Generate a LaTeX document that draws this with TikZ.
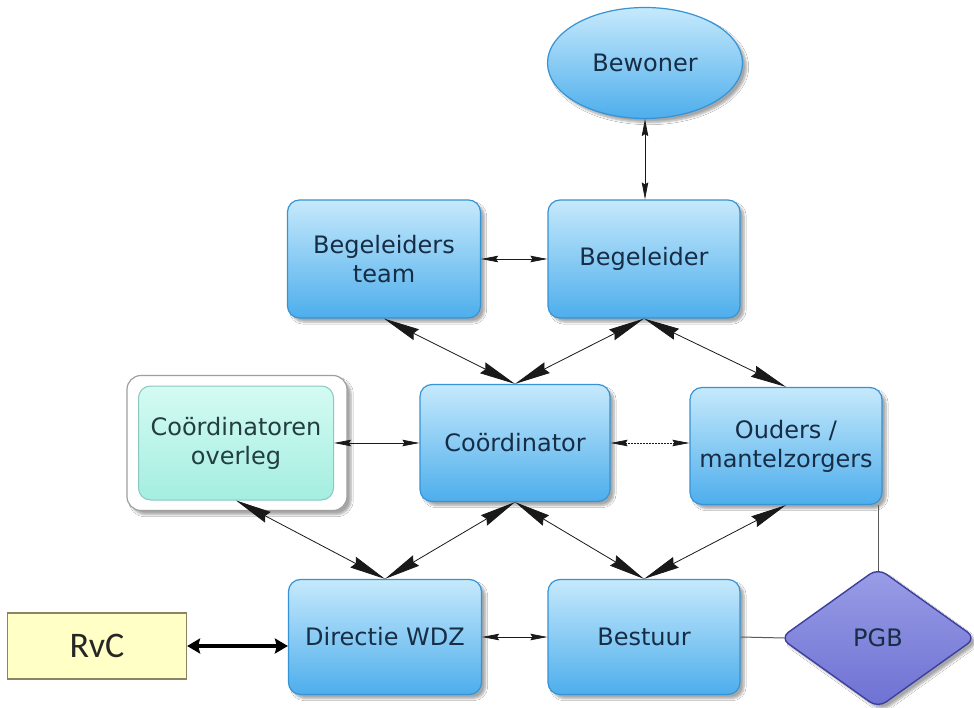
\documentclass[tikz,border=0pt]{standalone}
\usepackage{fontspec}
\setmainfont{DejaVu Sans}
\newfontfamily\rvcfont{Carlito}
\usetikzlibrary{arrows.meta,shapes.geometric,shadows.blur}
\definecolor{boxtop}{HTML}{C6E9FC}
\definecolor{boxbot}{HTML}{4DAEEC}
\definecolor{boxline}{HTML}{3593D6}
\definecolor{txt}{HTML}{172D45}
\definecolor{aquatop}{HTML}{D4FBF3}
\definecolor{aquabot}{HTML}{A4EEDF}
\definecolor{aqualine}{HTML}{8CC8C0}
\definecolor{aquatxt}{HTML}{223E3E}
\definecolor{pgbtop}{HTML}{9A9DE6}
\definecolor{pgbbot}{HTML}{6D71D2}
\definecolor{pgbline}{HTML}{3B3F9E}
\definecolor{rvcfill}{HTML}{FFFFC6}
\definecolor{rvcline}{HTML}{8C8460}
\tikzset{
  shade/.style={blur shadow={shadow xshift=4pt, shadow yshift=-4pt, shadow opacity=35, shadow blur steps=6}},
  box/.style={rectangle, rounded corners=12pt, draw=boxline, line width=1.2pt,
    top color=boxtop, bottom color=boxbot, text=txt, align=center,
    font=\fontsize{24}{29}\selectfont, inner sep=0pt, shade},
  frame/.style={rectangle, rounded corners=14pt, draw=gray!75, line width=1.2pt, fill=white,
    minimum width=220pt, minimum height=135pt, shade},
  aquabox/.style={rectangle, rounded corners=12pt, draw=aqualine, line width=1pt,
    top color=aquatop, bottom color=aquabot, text=aquatxt, align=center,
    font=\fontsize{24}{29}\selectfont, inner sep=0pt, minimum width=195pt, minimum height=114pt},
  ovalbox/.style={ellipse, draw=boxline, line width=1.2pt, top color=boxtop, bottom color=boxbot,
    text=txt, font=\fontsize{24}{29}\selectfont, minimum width=195pt, minimum height=111pt, inner sep=0pt, shade},
  diabox/.style={diamond, rounded corners=10pt, draw=pgbline, line width=1.4pt, top color=pgbtop, bottom color=pgbbot,
    text=txt, font=\fontsize{24}{29}\selectfont, minimum width=196pt, minimum height=140pt, inner sep=0pt, shade},
  rvcbox/.style={rectangle, draw=rvcline, line width=1.2pt, fill=rvcfill, text=black!85,
    font=\rvcfont\fontsize{36}{40}\selectfont, minimum width=179pt, minimum height=66pt, inner sep=0pt},
  bigarr/.style={{Stealth[length=36pt,width=12pt,inset=3pt]}-{Stealth[length=36pt,width=12pt,inset=3pt]}, line width=0.8pt, draw=black!90},
  smallarr/.style={{Stealth[length=17pt,width=6.5pt,inset=2pt]}-{Stealth[length=17pt,width=6.5pt,inset=2pt]}, line width=0.7pt, draw=black!90},
  thickarr/.style={{Stealth[length=13pt,width=15pt,inset=2pt]}-{Stealth[length=13pt,width=15pt,inset=2pt]}, line width=3.5pt},
  plainline/.style={line width=1pt, draw=black!65}
}
\begin{document}
\begin{tikzpicture}[x=1pt,y=-1pt]
\useasboundingbox (0,0) rectangle (974,708);
\fill[white] (0,0) rectangle (974,708);
\node[ovalbox] (bew) at (645,63) {Bewoner};
\node[box, minimum width=193pt, minimum height=118pt] (bt) at (384,259) {Begeleiders\\team};
\node[box, minimum width=192pt, minimum height=118pt] (beg) at (644,259) {Begeleider};
\node[frame] (cof) at (237,443) {};
\node[aquabox] (cov) at (236,443) {Coördinatoren\\overleg};
\node[box, minimum width=190pt, minimum height=117pt] (coo) at (515,443) {Coördinator};
\node[box, minimum width=192pt, minimum height=117pt] (oud) at (786,446) {Ouders /\\mantelzorgers};
\node[box, minimum width=193pt, minimum height=115pt] (dir) at (385,637) {Directie WDZ};
\node[box, minimum width=192pt, minimum height=115pt] (bes) at (644,637) {Bestuur};
\node[diabox] (pgb) at (878,638) {PGB};
\node[rvcbox] (rvc) at (97,646) {RvC};

\draw[smallarr] (bew.south) -- (bew.south |- beg.north);
\draw[smallarr] (bt.east) -- (beg.west);
\draw[bigarr] (bt.south) -- (coo.north);
\draw[bigarr] (beg.south) -- (coo.north);
\draw[bigarr] (beg.south) -- (oud.north);
\draw[smallarr] (cov.east) -- (coo.west);
\draw[smallarr, dash pattern=on 1.5pt off 1.5pt] (coo.east) -- (coo.east -| oud.west);
\draw[bigarr] (cov.south) -- (dir.north);
\draw[bigarr] (coo.south) -- (dir.north);
\draw[bigarr] (coo.south) -- (bes.north);
\draw[bigarr] (oud.south) -- (bes.north);
\draw[smallarr] (dir.east) -- (bes.west);
\draw[thickarr] (rvc.east) -- (rvc.east -| dir.west);
\draw[plainline] ([yshift=-4pt]pgb.north) -- (pgb.north |- oud.south);
\draw[plainline] (bes.east) -- ([xshift=5pt]pgb.west);
\end{tikzpicture}
\end{document}
